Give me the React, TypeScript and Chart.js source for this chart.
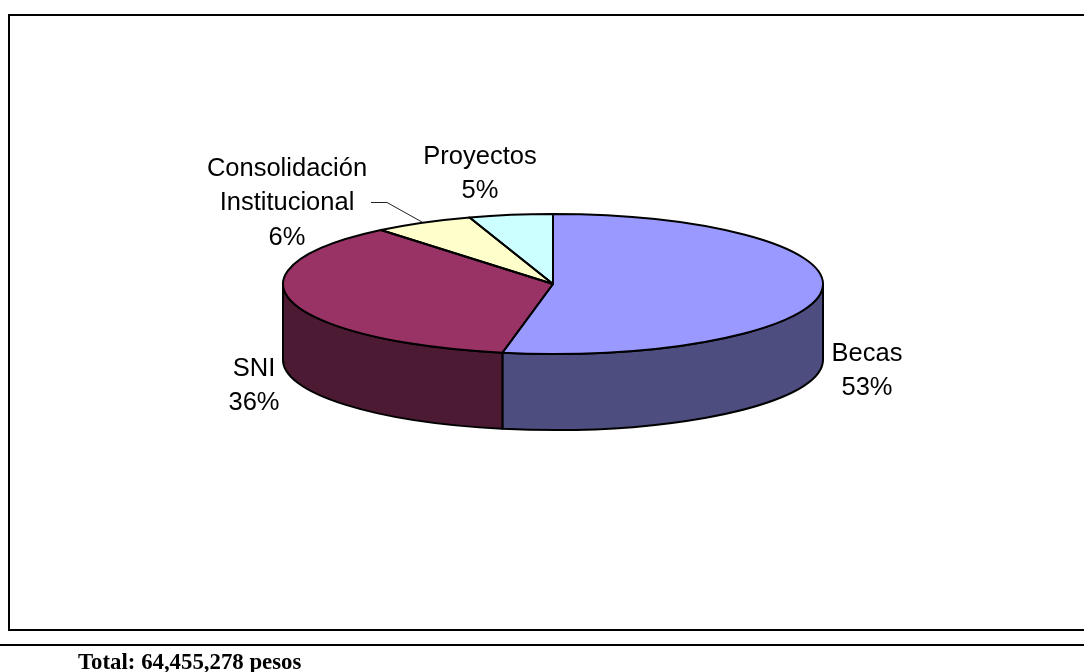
import React, { useEffect, useRef } from "react";
import { Chart, registerables } from "chart.js";

Chart.register(...registerables);

const categories = ["Becas", "SNI", "Consolidación Institucional", "Proyectos"];
const shares = [53, 36, 6, 5];
const topColors = ["#9999FF", "#993366", "#FFFFCC", "#CCFFFF"];
const sideColors = ["#4D4D80", "#4D1A33", "#808066", "#668080"];
const totalNote = "Total: 64,455,278 pesos";

const RX = 270;
const RY = 70;
const CY = 284;
const DEPTH = 76;
const OUTLINE = 2;

const labelLines: string[][] = [
  ["Becas", "53%"],
  ["SNI", "36%"],
  ["Consolidación", "Institucional", "6%"],
  ["Proyectos", "5%"],
];
const labelAnchors = [
  [867, 353.5],
  [254, 368.5],
  [287, 168.5],
  [480, 156.5],
];

const pie3d = {
  id: "pie3d",
  beforeDraw(chart: any) {
    const { ctx, width, height } = chart;
    ctx.save();
    ctx.fillStyle = "#fff";
    ctx.fillRect(0, 0, width, height);
    ctx.strokeStyle = "#000";
    ctx.lineWidth = 2;
    ctx.beginPath();
    ctx.moveTo(1090, 15);
    ctx.lineTo(9, 15);
    ctx.lineTo(9, 630);
    ctx.lineTo(1090, 630);
    ctx.moveTo(0, 645);
    ctx.lineTo(1084, 645);
    ctx.stroke();
    ctx.restore();
  },
  beforeDatasetsDraw(chart: any) {
    const { ctx } = chart;
    const arcs = chart.getDatasetMeta(0).data;
    const cx = arcs[0].x;
    ctx.save();
    ctx.lineJoin = "round";
    arcs.forEach((arc: any, i: number) => {
      const a = Math.max(arc.startAngle, 0);
      const b = Math.min(arc.endAngle, Math.PI);
      if (b <= a) return;
      ctx.beginPath();
      ctx.ellipse(cx, CY, RX, RY, 0, a, b);
      ctx.lineTo(cx + RX * Math.cos(b), CY + RY * Math.sin(b) + DEPTH);
      ctx.ellipse(cx, CY + DEPTH, RX, RY, 0, b, a, true);
      ctx.closePath();
      ctx.fillStyle = sideColors[i];
      ctx.fill();
      ctx.strokeStyle = "#000";
      ctx.lineWidth = OUTLINE;
      ctx.stroke();
    });
    ctx.restore();
    // flatten the library's circular arcs into the ellipse of the top face
    ctx.save();
    ctx.translate(0, CY);
    ctx.scale(1, RY / RX);
    ctx.translate(0, -arcs[0].y);
  },
  afterDatasetsDraw(chart: any) {
    const { ctx } = chart;
    ctx.restore();
    const arcs = chart.getDatasetMeta(0).data;
    const cx = arcs[0].x;
    ctx.save();
    ctx.strokeStyle = "#000";
    ctx.lineWidth = OUTLINE;
    ctx.lineJoin = "round";
    arcs.forEach((arc: any) => {
      ctx.beginPath();
      ctx.moveTo(cx, CY);
      ctx.ellipse(cx, CY, RX, RY, 0, arc.startAngle, arc.endAngle);
      ctx.closePath();
      ctx.stroke();
    });

    // leader line of the "Consolidación Institucional" label
    ctx.lineWidth = 1;
    ctx.strokeStyle = "#222";
    ctx.beginPath();
    ctx.moveTo(371, 202.5);
    ctx.lineTo(387, 202.5);
    ctx.lineTo(422, 222);
    ctx.stroke();

    ctx.fillStyle = "#000";
    ctx.font = '25.5px "Liberation Sans"';
    ctx.textAlign = "center";
    ctx.textBaseline = "middle";
    labelLines.forEach((lines, i) => {
      lines.forEach((t, j) => {
        ctx.fillText(t, labelAnchors[i][0], labelAnchors[i][1] + j * 34.7);
      });
    });

    ctx.font = 'bold 22.8px "Liberation Serif"';
    ctx.textAlign = "left";
    ctx.textBaseline = "alphabetic";
    ctx.fillText(totalNote, 78, 669);
    ctx.restore();
  },
};

export default function App() {
  const ref = useRef<HTMLCanvasElement>(null);
  useEffect(() => {
    const chart = new Chart(ref.current!, {
      type: "pie",
      data: {
        labels: categories,
        datasets: [
          {
            data: shares,
            backgroundColor: topColors,
            borderWidth: 0,
            clip: false,
          } as any,
        ],
      },
      options: {
        animation: false,
        responsive: false,
        radius: RX,
        layout: { padding: { left: 22, bottom: 104 } },
        plugins: { legend: { display: false }, tooltip: { enabled: false } },
      } as any,
      plugins: [pie3d],
    });
    return () => chart.destroy();
  }, []);
  return (
    <div style={{ position: "fixed", left: 0, top: 0, width: 1084, height: 672 }}>
      <canvas ref={ref} width={1084} height={672} style={{ display: "block" }} />
    </div>
  );
}
